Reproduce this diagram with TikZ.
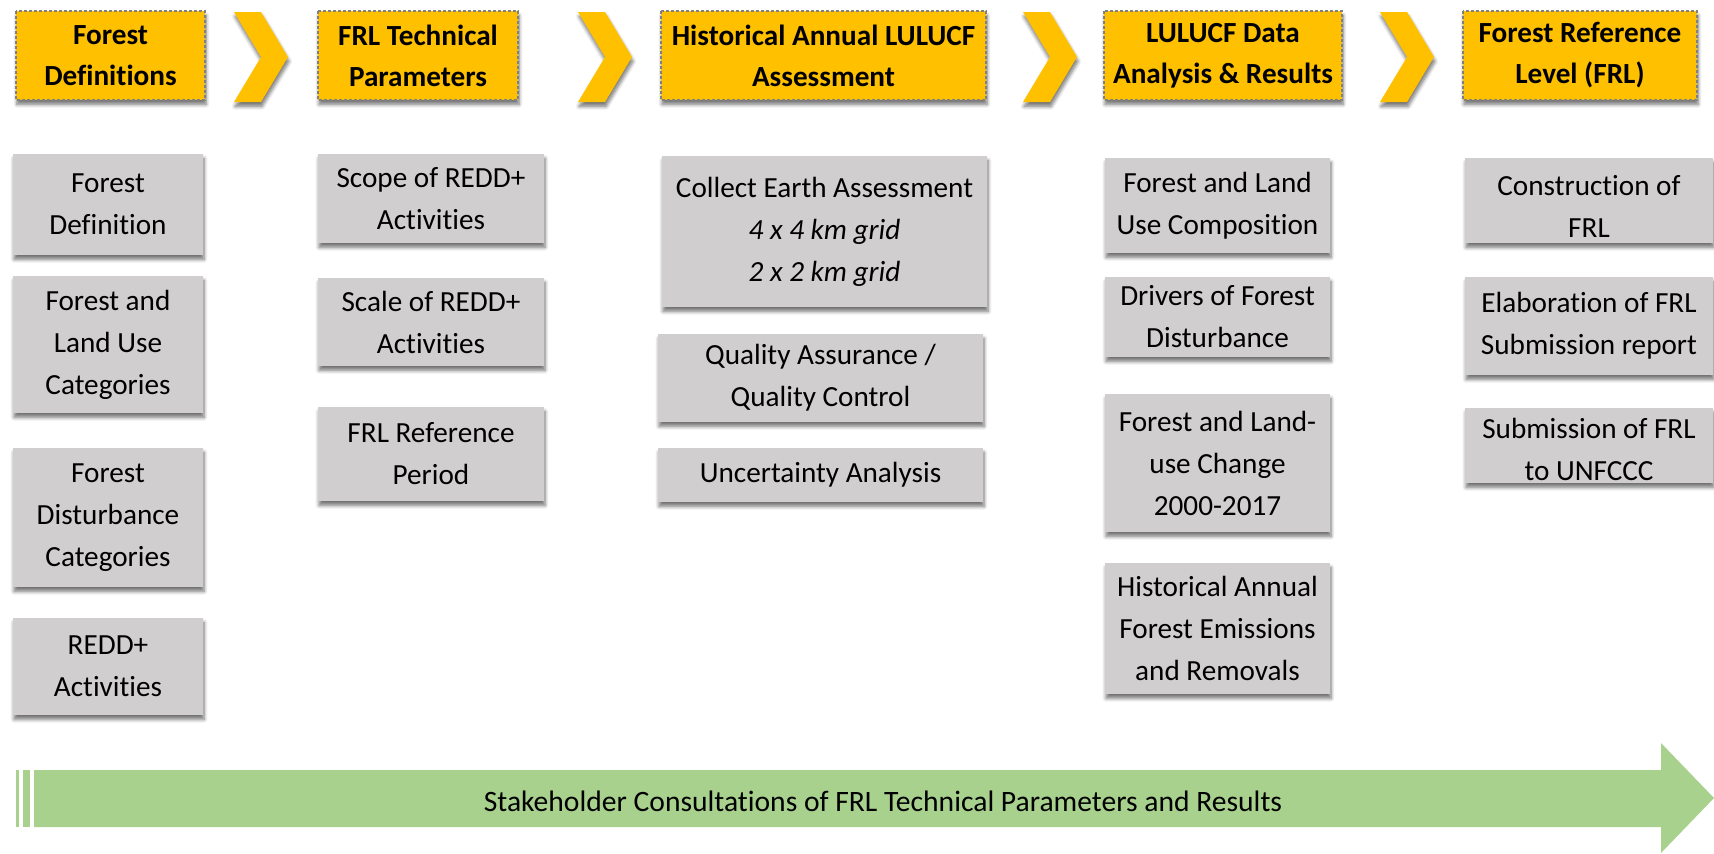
\documentclass[tikz,border=0pt]{standalone}
\usepackage{fontspec}
\setmainfont{Carlito}[Ligatures={NoCommon,TeX}]
\usetikzlibrary{shadows.blur}

\definecolor{hdrgold}{HTML}{FFC000}
\definecolor{itemgray}{HTML}{D0CECE}
\definecolor{consgreen}{HTML}{A9D18E}

\tikzset{
  softshadow/.style={blur shadow={shadow xshift=0.5pt, shadow yshift=-2.2pt, shadow blur radius=1.8pt, shadow blur steps=6, shadow opacity=55}},
  hdrbox/.style={fill=hdrgold, draw=gray, line width=0.6pt, dash pattern=on 1.5pt off 1pt, softshadow},
  hdrtext/.style={font=\fontsize{14.6}{20.5}\selectfont\bfseries, align=center, inner sep=0pt},
  itembox/.style={fill=itemgray, softshadow},
  itemtext/.style={font=\fontsize{14.6}{21}\selectfont, align=center, inner sep=0pt},
  chevron/.style={fill=hdrgold, softshadow}
}

\begin{document}
\begin{tikzpicture}[x=0.5pt,y=0.5pt,yscale=-1,xscale=1]
\useasboundingbox (0,0) rectangle (1714,853);

%Header boxes
\draw[hdrbox] (16,11) rectangle (205,100) node[midway, hdrtext] (hdrdef) {Forest\\Definitions};
\draw[hdrbox] (318,11) rectangle (518,100) node[midway, hdrtext] (hdrpar) {FRL Technical\\Parameters};
\draw[hdrbox] (661,11) rectangle (986,100) node[midway, hdrtext] (hdrhist) {Historical Annual LULUCF\\Assessment};
\draw[hdrbox] (1104,11) rectangle (1342,100) node[midway, hdrtext] (hdrdata) {LULUCF Data\\Analysis \& Results};
\draw[hdrbox] (1463,11) rectangle (1697,100) node[midway, hdrtext] (hdrfrl) {Forest Reference\\Level (FRL)};

%Chevrons
\fill[chevron] (234,12) -- (261,12) -- (288,57) -- (261,102) -- (234,102) -- (261,57) -- cycle;
\fill[chevron] (578,12) -- (605,12) -- (632,57) -- (605,102) -- (578,102) -- (605,57) -- cycle;
\fill[chevron] (1023,12) -- (1050,12) -- (1077,57) -- (1050,102) -- (1023,102) -- (1050,57) -- cycle;
\fill[chevron] (1380,12) -- (1407,12) -- (1434,57) -- (1407,102) -- (1380,102) -- (1407,57) -- cycle;

%Forest definitions column
\fill[itembox] (13,154) rectangle (203,255) node[midway, itemtext] (fdef) {Forest\\Definition};
\fill[itembox] (13,276) rectangle (203,413) node[midway, itemtext] (fcat) {Forest and\\Land Use\\Categories};
\fill[itembox] (13,448) rectangle (203,587) node[midway, itemtext] (fdist) {Forest\\Disturbance\\Categories};
\fill[itembox] (13,618) rectangle (203,715) node[midway, itemtext] (fredd) {REDD+\\Activities};

%Technical parameters column
\fill[itembox] (318,154) rectangle (544,243) node[midway, itemtext] (pscope) {Scope of REDD+\\Activities};
\fill[itembox] (318,278) rectangle (544,366) node[midway, itemtext] (pscale) {Scale of REDD+\\Activities};
\fill[itembox] (318,407) rectangle (544,501) node[midway, itemtext] (pperiod) {FRL Reference\\Period};

%Historical assessment column
\fill[itembox] (662,156) rectangle (987,307) node[midway, itemtext] (hce) {Collect Earth Assessment\\\textit{4 x 4 km grid}\\\textit{2 x 2 km grid}};
\fill[itembox] (658,334) rectangle (983,422) node[midway, itemtext] (hqa) {Quality Assurance /\\Quality Control};
\fill[itembox] (658,448) rectangle (983,502) node[midway, itemtext] (hunc) {Uncertainty Analysis};

%Data analysis column
\fill[itembox] (1105,158) rectangle (1330,253) node[midway, itemtext] (dcomp) {Forest and Land\\Use Composition};
\fill[itembox] (1105,277) rectangle (1330,357) node[midway, itemtext] (ddriv) {Drivers of Forest\\Disturbance};
\fill[itembox] (1105,394) rectangle (1330,532) node[midway, itemtext] (dchange) {Forest and Land-\\use Change\\2000-2017};
\fill[itembox] (1105,563) rectangle (1330,694) node[midway, itemtext] (demis) {Historical Annual\\Forest Emissions\\and Removals};

%FRL column
\fill[itembox] (1465,158) rectangle (1713,243) node[midway, itemtext, yshift=-3pt] (lcons) {Construction of\\FRL};
\fill[itembox] (1465,277) rectangle (1713,375) node[midway, itemtext] (lelab) {Elaboration of FRL\\Submission report};
\fill[itembox] (1465,408) rectangle (1713,483) node[midway, itemtext, yshift=-2pt] (lsub) {Submission of FRL\\to UNFCCC};

%Stakeholder arrow
\fill[consgreen] (16,770) rectangle (19,827);
\fill[consgreen] (23,770) rectangle (30,827);
\fill[consgreen] (34,770) -- (1661,770) -- (1661,743) -- (1714,798) -- (1661,853) -- (1661,827) -- (34,827) -- cycle;
% Text Node
\node[font=\fontsize{14.8}{17}\selectfont, inner sep=0pt] (stake) at (883,801) {Stakeholder Consultations of FRL Technical Parameters and Results};
\end{tikzpicture}
\end{document}
